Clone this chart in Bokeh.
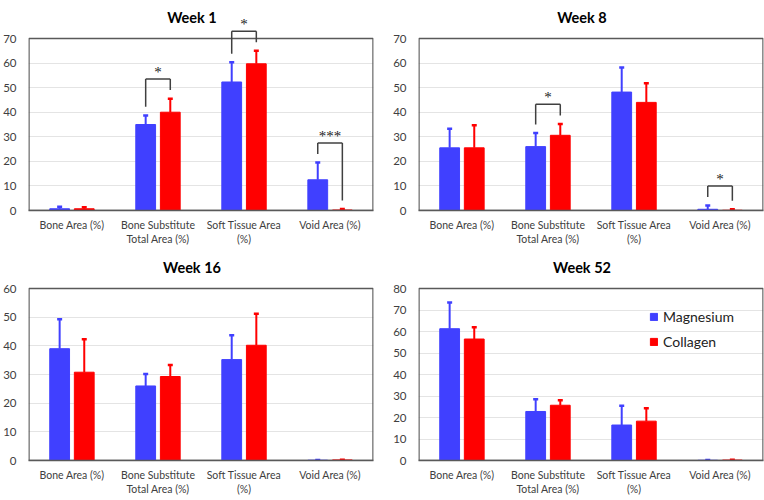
from bokeh.plotting import figure
from bokeh.layouts import gridplot
from bokeh.models import (Range1d, FixedTicker, ColumnDataSource, Whisker, TeeHead,
                          Arrow, LabelSet, Label, Legend, LegendItem)
from bokeh.embed import file_html
from bokeh.resources import INLINE

categories = ["Bone Area (%)", "Bone Substitute\nTotal Area (%)", "Soft Tissue Area\n(%)", "Void Area (%)"]
series_names = ["Magnesium", "Collagen"]

w1_mg = [0.7, 35.0, 52.3, 12.5]
w1_mg_err = [0.8, 3.7, 8.0, 7.0]
w1_col = [0.7, 40.0, 59.7, 0.2]
w1_col_err = [0.6, 5.5, 5.3, 0.4]
w1_sig = [(1, "*"), (2, "*"), (3, "***")]

w8_mg = [25.5, 26.0, 48.2, 0.5]
w8_mg_err = [7.8, 5.5, 10.0, 1.5]
w8_col = [25.5, 30.6, 44.0, 0.1]
w8_col_err = [9.2, 4.6, 7.8, 0.4]
w8_sig = [(1, "*"), (3, "*")]

w16_mg = [39.0, 26.0, 35.2, 0.1]
w16_mg_err = [10.3, 4.2, 8.5, 0.1]
w16_col = [30.8, 29.3, 40.2, 0.2]
w16_col_err = [11.5, 4.0, 11.0, 0.1]
w16_sig = []

w52_mg = [61.3, 22.8, 16.5, 0.1]
w52_mg_err = [12.2, 5.7, 9.0, 0.1]
w52_col = [56.5, 25.7, 18.3, 0.2]
w52_col_err = [5.5, 2.3, 6.0, 0.1]
w52_sig = []

BLUE = "#4040FF"
RED = "#FF0000"
FONT = "Lato"
DARK = "#595959"
OFF = 0.143
BW = 0.23
BOX_H = 172      # px height of the visible plot box
FRAME_W = 345


def make(title, mg, mg_err, col, col_err, ymax, sig, bl, br, bb, ext, title_dy, legend=False):
    n = len(categories)
    yend = ymax * (BOX_H + ext) / BOX_H
    p = figure(frame_width=FRAME_W, frame_height=BOX_H + ext, output_backend="svg",
               toolbar_location=None,
               x_range=Range1d(-0.505, n - 0.495), y_range=Range1d(0, yend),
               min_border_left=bl, min_border_right=br, min_border_top=0, min_border_bottom=bb)
    p.outline_line_color = None
    p.xgrid.grid_line_color = None
    ticks = list(range(0, ymax + 1, 10))
    p.ygrid.ticker = FixedTicker(ticks=ticks)
    p.ygrid.grid_line_color = "#e4e4e4"
    p.yaxis.ticker = FixedTicker(ticks=ticks)
    p.yaxis.axis_line_color = None
    p.yaxis.major_tick_line_color = None
    p.yaxis.minor_tick_line_color = None
    p.yaxis.major_label_text_font = FONT
    p.yaxis.major_label_text_font_size = "11.5px"
    p.yaxis.major_label_text_color = "#404040"
    p.yaxis.major_label_standoff = 6
    xs = list(range(n))
    p.xaxis.ticker = FixedTicker(ticks=xs)
    p.xaxis.major_label_overrides = {i: c for i, c in enumerate(categories)}
    p.xaxis.axis_line_color = DARK
    p.xaxis.axis_line_width = 1.5
    p.xaxis.major_tick_line_color = None
    p.xaxis.minor_tick_line_color = None
    p.xaxis.major_label_text_font = FONT
    p.xaxis.major_label_text_font_size = "10.5px"
    p.xaxis.major_label_text_color = "#404040"
    p.xaxis.major_label_standoff = 2

    # plot box (outline of the value area)
    p.quad(left=[-0.5], right=[n - 0.5], bottom=[0], top=[ymax], fill_color=None,
           line_color=DARK, line_width=1.5)

    renderers = []
    for vals, errs, off, color in ((mg, mg_err, -OFF, BLUE), (col, col_err, OFF, RED)):
        src = ColumnDataSource(dict(x=[x + off for x in xs], top=vals,
                                    up=[v + e for v, e in zip(vals, errs)]))
        r = p.vbar(x="x", top="top", width=BW, source=src, fill_color=color, line_color=color)
        renderers.append(r)
        w = Whisker(base="x", upper="up", lower="top", source=src, dimension="height",
                    line_color=color, line_width=2,
                    upper_head=TeeHead(size=5, line_color=color, line_width=2.5),
                    lower_head=None)
        p.add_layout(w)

    if sig:
        x0, y0, x1, y1 = [], [], [], []
        sx, sy, st = [], [], []
        gap, rise = 3.5, 8.0
        for i, txt in sig:
            tm = mg[i] + mg_err[i]
            tc = col[i] + col_err[i]
            h = max(tm, tc) + rise
            xl, xr = i - OFF, i + OFF
            x0 += [xl, xl, xr]
            y0 += [tm + gap, h, h]
            x1 += [xl, xr, xr]
            y1 += [h, h, tc + gap]
            sx.append(i)
            sy.append(h)
            st.append(txt)
        bsrc = ColumnDataSource(dict(x0=x0, y0=y0, x1=x1, y1=y1))
        p.add_layout(Arrow(start=None, end=None, x_start="x0", y_start="y0", x_end="x1", y_end="y1",
                           source=bsrc, line_color="#404040", line_width=1.5))
        ssrc = ColumnDataSource(dict(x=sx, y=sy, t=st))
        p.add_layout(LabelSet(x="x", y="y", text="t", source=ssrc, text_align="center",
                              text_baseline="bottom", y_offset=-1, text_font=FONT,
                              text_font_size="15px", text_color="#222222"))

    p.add_layout(Label(x=(n - 1) / 2, y=yend, text=title, text_align="center",
                       text_baseline="middle", x_offset=-9, y_offset=-title_dy,
                       text_font=FONT, text_font_size="14.5px", text_font_style="bold",
                       text_color="#000000"))

    if legend:
        lg = Legend(items=[LegendItem(label=series_names[0], renderers=[renderers[0]]),
                           LegendItem(label=series_names[1], renderers=[renderers[1]])],
                    location=(231, 109), border_line_color=None, background_fill_alpha=0,
                    label_text_font=FONT, label_text_font_size="14px", label_text_color="#222222",
                    glyph_width=9, glyph_height=9, label_height=20, spacing=5, padding=0,
                    margin=0, label_standoff=5)
        p.add_layout(lg)
    return p


p1 = make("Week 1", w1_mg, w1_mg_err, w1_col, w1_col_err, 70, w1_sig, 18, 17, 40, 38, 17)
p2 = make("Week 8", w8_mg, w8_mg_err, w8_col, w8_col_err, 70, w8_sig, 20, 4, 40, 38, 17)
p3 = make("Week 16", w16_mg, w16_mg_err, w16_col, w16_col_err, 60, w16_sig, 18, 17, 30, 38, 17)
p4 = make("Week 52", w52_mg, w52_mg_err, w52_col, w52_col_err, 80, w52_sig, 20, 4, 30, 38, 17,
          legend=True)

p = gridplot([[p1, p2], [p3, p4]], toolbar_location=None)
open("out.html", "w").write(file_html(p, INLINE))
